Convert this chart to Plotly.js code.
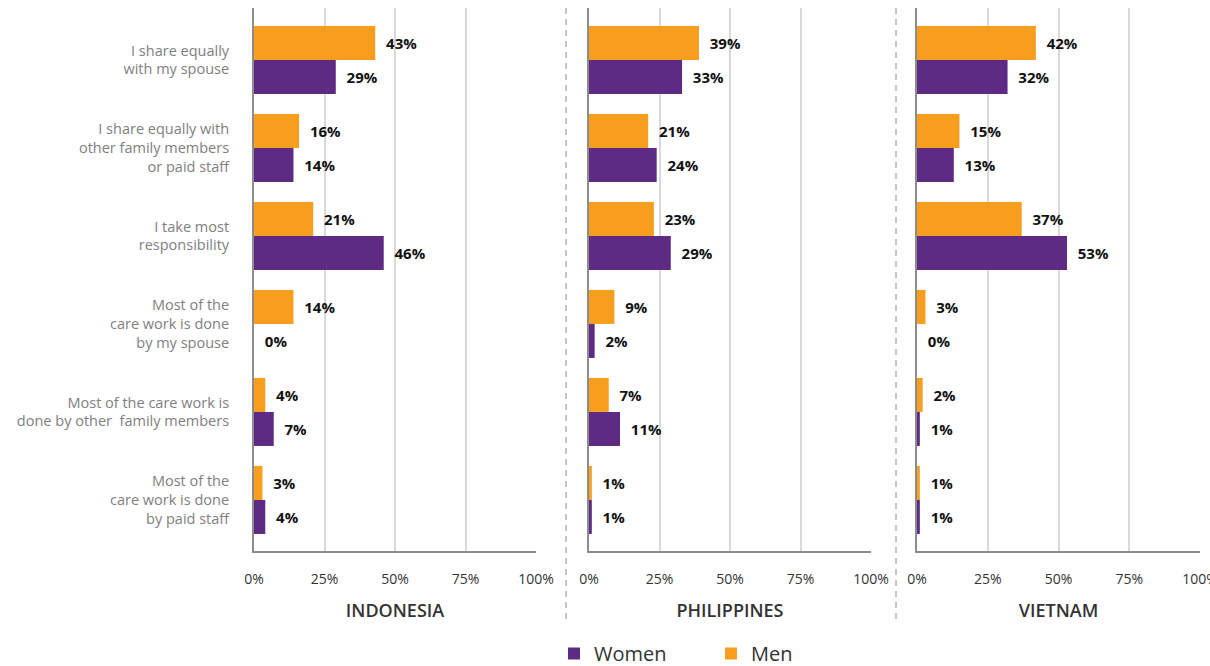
<!DOCTYPE html>
<html>
<head>
<meta charset="utf-8">
<script src="https://cdn.plot.ly/plotly-3.0.1.min.js"></script>
<style>html,body{margin:0;padding:0;background:#fff;}#chart{width:1210px;height:666px;}</style>
</head>
<body>
<div id="chart"></div>
<script>
const categories = [
  "I share equally<br>with my spouse",
  "I share equally with<br>other family members<br>or paid staff",
  "I take most<br>responsibility",
  "Most of the<br>care work is done<br>by my spouse",
  "Most of the care work is<br>done by other  family members",
  "Most of the<br>care work is done<br>by paid staff"
];
const countries = ["INDONESIA", "PHILIPPINES", "VIETNAM"];
const menIndonesia = [43, 16, 21, 14, 4, 3];
const womenIndonesia = [29, 14, 46, 0, 7, 4];
const menPhilippines = [39, 21, 23, 9, 7, 1];
const womenPhilippines = [33, 24, 29, 2, 11, 1];
const menVietnam = [42, 15, 37, 3, 2, 1];
const womenVietnam = [32, 13, 53, 0, 1, 1];
const tickValues = [0, 25, 50, 75, 100];
const tickLabels = ["0%", "25%", "50%", "75%", "100%"];

const menSeries = [menIndonesia, menPhilippines, menVietnam];
const womenSeries = [womenIndonesia, womenPhilippines, womenVietnam];

const W = 1210, H = 666;
const FONT = "Open Sans, Noto Sans, sans-serif";
const MEN_COLOR = "#F89E1E";
const WOMEN_COLOR = "#5E2B84";
const panelPx = [[254, 536], [589, 871], [917, 1200]];
const yTop = 8, yBottom = 551;

const traces = [];
countries.forEach((c, i) => {
  const sfx = i === 0 ? "" : String(i + 1);
  traces.push({
    type: "bar", orientation: "h", name: "Men", legendgroup: "men", legendrank: 2,
    showlegend: i === 0,
    x: menSeries[i], y: categories,
    xaxis: "x" + sfx, yaxis: "y" + sfx,
    marker: {color: MEN_COLOR},
    texttemplate: "\u00a0\u00a0%{x:.0f}%", textposition: "outside", cliponaxis: false,
    textfont: {family: FONT, size: 15, color: "#111", weight: "bold"},
    hovertemplate: "Men: %{x:.0f}%<extra></extra>"
  });
  traces.push({
    type: "bar", orientation: "h", name: "Women", legendgroup: "women", legendrank: 1,
    showlegend: i === 0,
    x: womenSeries[i], y: categories,
    xaxis: "x" + sfx, yaxis: "y" + sfx,
    marker: {color: WOMEN_COLOR},
    texttemplate: "\u00a0\u00a0%{x:.0f}%", textposition: "outside", cliponaxis: false,
    textfont: {family: FONT, size: 15, color: "#111", weight: "bold"},
    hovertemplate: "Women: %{x:.0f}%<extra></extra>"
  });
});

const layout = {
  width: W, height: H,
  margin: {l: 0, r: 0, t: 0, b: 0, autoexpand: false},
  paper_bgcolor: "#fff", plot_bgcolor: "#fff",
  font: {family: FONT, color: "#333"},
  barmode: "group", bargap: 0.227, bargroupgap: 0,
  showlegend: true,
  legend: {
    orientation: "h", x: 554 / W, xanchor: "left", y: 1 - 634 / H, yanchor: "top",
    font: {family: FONT, size: 20, color: "#333"},
    entrywidth: 112, entrywidthmode: "pixels", itemclick: false
  },
  shapes: [566, 896].map(px => ({
    type: "line", xref: "paper", yref: "paper",
    x0: px / W, x1: px / W, y0: 1 - yTop / H, y1: 1 - 620 / H,
    line: {color: "#8a8a8a", width: 1, dash: "6px,5px"}
  })),
  hovermode: "closest"
};

countries.forEach((c, i) => {
  const sfx = i === 0 ? "" : String(i + 1);
  const xa = "xaxis" + sfx, ya = "yaxis" + sfx;
  layout[xa] = {
    domain: [panelPx[i][0] / W, panelPx[i][1] / W],
    anchor: "y" + sfx,
    range: [0, 100], tickmode: "array", tickvals: tickValues, ticktext: tickLabels,
    ticklabeloverflow: "allow",
    showgrid: true, gridcolor: "#d9d9d9", gridwidth: 2,
    zeroline: false, showline: true, linecolor: "#8c8c8c", linewidth: 2,
    ticks: "", ticklabelstandoff: 14,
    tickfont: {family: FONT, size: 14, color: "#333"},
    title: {text: c, standoff: 18, font: {family: FONT, size: 18, color: "#333", weight: 600}},
    fixedrange: true, automargin: false
  };
  layout[ya] = {
    domain: [1 - yBottom / H, 1 - yTop / H],
    anchor: "x" + sfx,
    type: "category",
    range: [5.58, -0.59],
    showgrid: false, zeroline: false,
    showline: true, linecolor: "#8c8c8c", linewidth: 2,
    ticks: "", showticklabels: i === 0, ticklabelstandoff: 20,
    tickfont: {family: FONT, size: 14.5, color: "#808080"},
    fixedrange: true, automargin: false
  };
  if (i > 0) layout[ya].matches = "y";
});

Plotly.newPlot("chart", traces, layout, {displayModeBar: false});
</script>
</body>
</html>
